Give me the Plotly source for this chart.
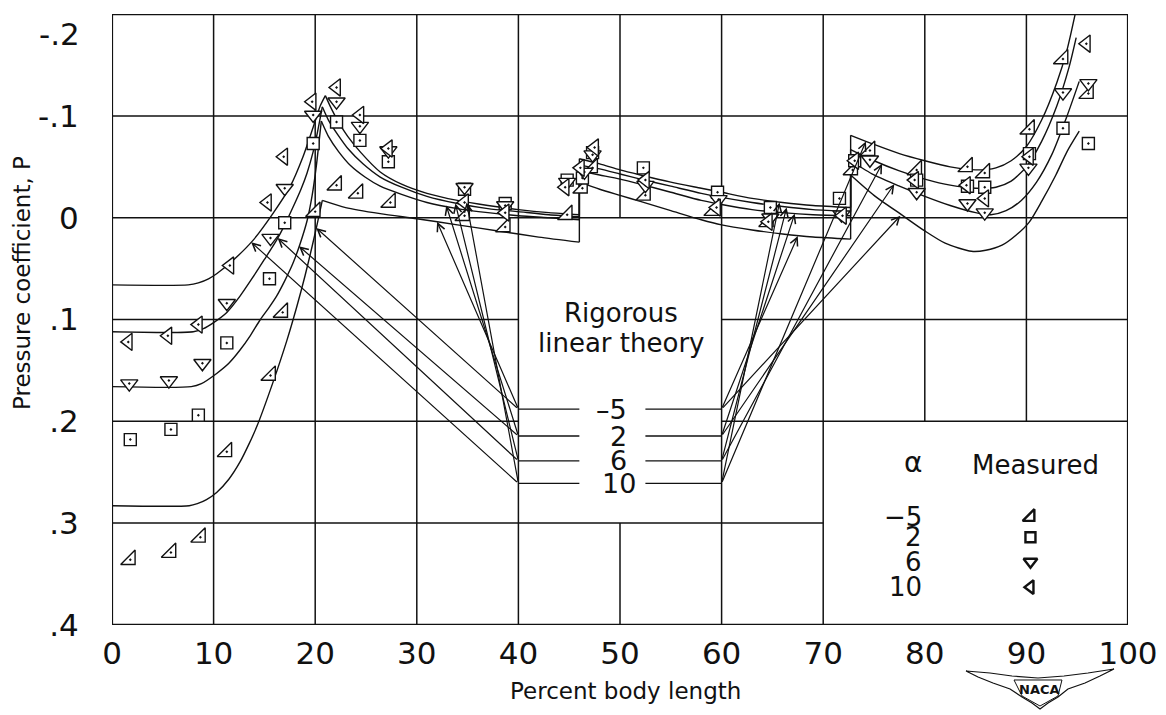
import plotly.graph_objects as go

# ---------------- axis ticks ----------------
X_TICKS = [0, 10, 20, 30, 40, 50, 60, 70, 80, 90, 100]
X_TICK_TEXT = ["0", "10", "20", "30", "40", "50", "60", "70", "80", "90", "100"]
Y_TICKS = [-0.2, -0.1, 0.0, 0.1, 0.2, 0.3, 0.4]
Y_TICK_TEXT = ["-.2", "-.1", "0", ".1", ".2", ".3", ".4"]

ALPHA_LABELS = ["–5", "2", "6", "10"]
LEGEND_LABELS = ["−5", "2", "6", "10"]

# ---------------- rigorous linear theory ----------------
# alpha = -5
TH_M5_NOSE_X = [0, 7.6, 8.4, 9.3, 10.3, 11.5, 12.6, 13.5, 14.3, 15.8, 17.2, 18.2, 19.0, 19.7, 20.2, 20.7]
TH_M5_NOSE_Y = [0.283, 0.283, 0.281, 0.277, 0.270, 0.257, 0.240, 0.222, 0.204, 0.163, 0.121, 0.087, 0.057, 0.028, 0.006, -0.017]
TH_M5_FORE_X = [20.7, 23.0, 26.4, 30.0, 34.0, 38.0, 42.0, 46.0]
TH_M5_FORE_Y = [-0.017, -0.010, -0.004, 0.001, 0.007, 0.013, 0.019, 0.024]
TH_M5_MID_X = [46.0, 48.0, 50.0, 52.0, 55.0, 58.0, 60.0, 63.0, 66.0, 69.0, 72.7]
TH_M5_MID_Y = [-0.035, -0.028, -0.022, -0.016, -0.007, 0.002, 0.007, 0.012, 0.016, 0.019, 0.021]
TH_M5_AFT_X = [72.7, 75.0, 77.7, 80.0, 82.0, 84.6, 86.0, 87.6, 89.0, 90.3, 91.5, 92.9, 94.0, 95.2]
TH_M5_AFT_Y = [-0.042, -0.022, -0.003, 0.013, 0.025, 0.033, 0.032, 0.027, 0.017, 0.004, -0.016, -0.042, -0.065, -0.085]

# alpha = 2
TH_2_NOSE_X = [0, 7.8, 8.8, 10.3, 11.5, 12.6, 13.6, 14.6, 15.4, 16.2, 17.0, 17.8, 18.5, 19.2, 19.7, 20.1, 20.6]
TH_2_NOSE_Y = [0.166, 0.166, 0.163, 0.153, 0.143, 0.130, 0.116, 0.100, 0.089, 0.077, 0.062, 0.045, 0.026, 0.003, -0.022, -0.050, -0.095]
TH_2_FORE_X = [20.6, 21.3, 22.3, 23.5, 24.9, 26.4, 28.5, 31.0, 34.0, 37.0, 40.0, 43.0, 46.0]
TH_2_FORE_Y = [-0.095, -0.080, -0.065, -0.051, -0.040, -0.031, -0.023, -0.015, -0.009, -0.005, -0.002, 0.000, 0.002]
TH_2_MID_X = [46.0, 48.0, 50.0, 52.0, 55.0, 58.0, 60.0, 63.0, 66.0, 69.0, 72.7]
TH_2_MID_Y = [-0.046, -0.042, -0.038, -0.033, -0.025, -0.017, -0.013, -0.008, -0.005, -0.003, -0.002]
TH_2_AFT_X = [72.7, 75.0, 77.5, 80.0, 82.5, 85.0, 86.5, 88.0, 89.5, 91.0, 92.5, 94.0, 95.2]
TH_2_AFT_Y = [-0.056, -0.042, -0.031, -0.021, -0.012, -0.005, -0.003, -0.007, -0.017, -0.035, -0.062, -0.100, -0.134]

# alpha = 6
TH_6_NOSE_X = [0, 8.0, 9.0, 10.0, 11.3, 12.6, 13.9, 15.0, 16.2, 17.0, 17.8, 18.6, 19.2, 19.8, 20.2, 20.7]
TH_6_NOSE_Y = [0.112, 0.112, 0.109, 0.103, 0.093, 0.077, 0.058, 0.041, 0.022, 0.007, -0.010, -0.028, -0.044, -0.065, -0.083, -0.109]
TH_6_FORE_X = [20.7, 21.3, 22.2, 23.3, 24.7, 26.4, 28.5, 31.0, 34.0, 37.0, 40.0, 43.0, 46.0]
TH_6_FORE_Y = [-0.109, -0.096, -0.082, -0.067, -0.053, -0.040, -0.030, -0.021, -0.014, -0.009, -0.006, -0.003, -0.001]
TH_6_MID_X = [46.0, 48.0, 50.0, 52.0, 55.0, 58.0, 60.0, 63.0, 66.0, 69.0, 72.7]
TH_6_MID_Y = [-0.052, -0.048, -0.043, -0.038, -0.031, -0.024, -0.020, -0.015, -0.011, -0.008, -0.006]
TH_6_AFT_X = [72.7, 75.0, 77.5, 80.0, 82.5, 85.0, 87.0, 88.5, 90.0, 91.5, 93.0, 94.2, 94.9]
TH_6_AFT_Y = [-0.067, -0.056, -0.046, -0.038, -0.032, -0.029, -0.030, -0.036, -0.050, -0.075, -0.110, -0.148, -0.177]

# alpha = 10
TH_10_NOSE_X = [0, 7.5, 8.5, 9.5, 10.3, 11.9, 13.9, 15.9, 17.5, 18.8, 19.8, 20.5, 21.0]
TH_10_NOSE_Y = [0.066, 0.066, 0.064, 0.060, 0.055, 0.042, 0.022, -0.005, -0.030, -0.060, -0.089, -0.110, -0.120]
TH_10_FORE_X = [21.0, 21.6, 22.3, 23.2, 24.5, 26.4, 28.5, 31.0, 34.0, 37.0, 40.0, 43.0, 46.0]
TH_10_FORE_Y = [-0.120, -0.107, -0.094, -0.080, -0.064, -0.045, -0.033, -0.024, -0.017, -0.012, -0.008, -0.005, -0.003]
TH_10_MID_X = [46.0, 48.0, 50.0, 52.0, 55.0, 58.0, 60.0, 63.0, 66.0, 69.0, 72.7]
TH_10_MID_Y = [-0.058, -0.053, -0.047, -0.042, -0.035, -0.029, -0.025, -0.019, -0.015, -0.012, -0.010]
TH_10_AFT_X = [72.7, 75.0, 77.5, 80.0, 82.5, 85.0, 87.0, 88.5, 90.0, 91.5, 93.0, 94.0, 94.8]
TH_10_AFT_Y = [-0.081, -0.072, -0.063, -0.056, -0.050, -0.047, -0.049, -0.056, -0.070, -0.096, -0.133, -0.165, -0.200]

# ---------------- label leaders (order: -5, 2, 6, 10) ----------------
LABEL_Y = [0.188, 0.2145, 0.239, 0.261]
LEFT_SHALLOW_X = [20.1, 18.4, 16.3, 13.7]
LEFT_SHALLOW_Y = [0.010, 0.028, 0.020, 0.024]
LEFT_STEEP_X = [32.0, 32.9, 33.8, 34.9]
LEFT_STEEP_Y = [0.004, -0.012, -0.014, -0.015]
RIGHT_STEEP_X = [67.5, 67.2, 66.4, 65.7]
RIGHT_STEEP_Y = [0.018, -0.004, -0.010, -0.015]
RIGHT_SHALLOW_X = [77.6, 77.0, 75.8, 74.2]
RIGHT_SHALLOW_Y = [-0.002, -0.033, -0.053, -0.075]

# ---------------- measured ----------------
MEAS_M5_X = [1.8, 5.8, 8.7, 11.3, 15.6, 16.8, 20.0, 22.1, 24.2, 27.4, 34.7, 38.7, 44.8, 46.3, 47.3,
             52.5, 59.2, 64.6, 72.9, 74.6, 79.2, 84.2, 85.9, 90.3, 93.6, 96.1]
MEAS_M5_Y = [0.336, 0.329, 0.314, 0.230, 0.155, 0.093, -0.006, -0.032, -0.024, -0.015, -0.002, 0.009, -0.003, -0.029, -0.049,
             -0.022, -0.007, 0.004, -0.047, -0.066, -0.047, -0.050, -0.044, -0.087, -0.156, -0.122]
MEAS_2_X = [1.8, 5.8, 8.5, 11.3, 15.5, 17.0, 19.8, 22.1, 24.4, 27.2, 34.7, 38.7, 44.8, 46.3, 47.3,
            52.3, 59.6, 64.8, 71.6, 73.1, 79.2, 84.2, 85.9, 90.3, 93.6, 96.1]
MEAS_2_Y = [0.218, 0.208, 0.194, 0.123, 0.060, 0.005, -0.073, -0.094, -0.076, -0.055, -0.028, -0.014, -0.037, -0.039, -0.064,
            -0.049, -0.025, -0.010, -0.019, -0.056, -0.037, -0.031, -0.030, -0.063, -0.088, -0.073]
MEAS_6_X = [1.7, 5.6, 8.9, 11.3, 15.6, 17.0, 19.8, 22.1, 24.4, 27.2, 34.7, 38.7, 44.8, 46.5, 47.3,
            52.5, 59.7, 64.8, 71.8, 74.6, 79.2, 84.2, 85.9, 90.2, 93.6, 96.1]
MEAS_6_Y = [0.163, 0.160, 0.143, 0.084, 0.020, -0.029, -0.101, -0.114, -0.090, -0.066, -0.030, -0.012, -0.035, -0.045, -0.062,
            -0.032, -0.018, 0.000, -0.003, -0.057, -0.025, -0.014, -0.005, -0.049, -0.123, -0.132]
MEAS_10_X = [1.6, 5.5, 8.5, 11.6, 15.3, 16.9, 19.7, 22.1, 24.4, 27.2, 34.7, 38.7, 44.6, 46.1, 47.5,
             52.5, 59.5, 64.6, 71.9, 73.1, 79.0, 84.1, 85.9, 90.3, 95.9]
MEAS_10_Y = [0.122, 0.116, 0.105, 0.047, -0.015, -0.060, -0.114, -0.128, -0.101, -0.068, -0.015, -0.005, -0.030, -0.049, -0.069,
             -0.037, -0.010, 0.004, -0.002, -0.056, -0.037, -0.032, -0.019, -0.060, -0.171]

LEGEND_MARK_Y = [0.294, 0.314, 0.338, 0.363]

BLACK = "#111111"
FONT = "DejaVu Sans"
fig = go.Figure()


def add_line(x, y, width=1.4, shape="spline"):
    fig.add_trace(go.Scatter(x=x, y=y, mode="lines", hoverinfo="skip", showlegend=False,
                             line=dict(color=BLACK, width=width, shape=shape, smoothing=0.7)))


theory = [
    (TH_M5_NOSE_X, TH_M5_NOSE_Y, TH_M5_FORE_X, TH_M5_FORE_Y, TH_M5_MID_X, TH_M5_MID_Y, TH_M5_AFT_X, TH_M5_AFT_Y),
    (TH_2_NOSE_X, TH_2_NOSE_Y, TH_2_FORE_X, TH_2_FORE_Y, TH_2_MID_X, TH_2_MID_Y, TH_2_AFT_X, TH_2_AFT_Y),
    (TH_6_NOSE_X, TH_6_NOSE_Y, TH_6_FORE_X, TH_6_FORE_Y, TH_6_MID_X, TH_6_MID_Y, TH_6_AFT_X, TH_6_AFT_Y),
    (TH_10_NOSE_X, TH_10_NOSE_Y, TH_10_FORE_X, TH_10_FORE_Y, TH_10_MID_X, TH_10_MID_Y, TH_10_AFT_X, TH_10_AFT_Y),
]

# grid and frame (shapes)
shapes = []
def seg(x0, y0, x1, y1, w=1.5):
    shapes.append(dict(type="line", xref="x", yref="y", x0=x0, y0=y0, x1=x1, y1=y1,
                       line=dict(color=BLACK, width=w), layer="below"))

for xv in (10, 20, 30, 40, 60, 70):
    seg(xv, -0.2, xv, 0.4)
seg(50, -0.2, 50, 0.0)
seg(50, 0.3, 50, 0.4)
for xv in (80, 90):
    seg(xv, -0.2, xv, 0.2)
for yv in (-0.1, 0.0):
    seg(0, yv, 100, yv)
for yv in (0.1, 0.2):
    seg(0, yv, 40, yv)
    seg(60, yv, 100, yv)
seg(0, 0.3, 70, 0.3)
shapes.append(dict(type="rect", xref="x", yref="y", x0=0, y0=-0.2, x1=100, y1=0.4,
                   line=dict(color=BLACK, width=2.2), layer="below"))

# theory curves
for nx, ny, fx, fy, mx, my, ax_, ay_ in theory:
    add_line(nx, ny)
    add_line(fx, fy)
    add_line([fx[-1], mx[0]], [fy[-1], my[0]], shape="linear")
    add_line(mx, my)
    add_line([mx[-1], ax_[0]], [my[-1], ay_[0]], shape="linear")
    add_line(ax_, ay_)

# label stubs
for ly in LABEL_Y:
    add_line([40, 46], [ly, ly], width=1.3, shape="linear")
    add_line([52.5, 60], [ly, ly], width=1.3, shape="linear")

annotations = []
def leader(x0, y0, x1, y1):
    annotations.append(dict(x=x1, y=y1, ax=x0, ay=y0, xref="x", yref="y", axref="x", ayref="y",
                            text="", showarrow=True, arrowhead=5, arrowsize=1.3, arrowwidth=1.2,
                            arrowcolor=BLACK, standoff=0, startstandoff=0))

for i, ly in enumerate(LABEL_Y):
    leader(40, ly, LEFT_SHALLOW_X[i], LEFT_SHALLOW_Y[i])
    leader(40, ly, LEFT_STEEP_X[i], LEFT_STEEP_Y[i])
    leader(60, ly, RIGHT_STEEP_X[i], RIGHT_STEEP_Y[i])
    leader(60, ly, RIGHT_SHALLOW_X[i], RIGHT_SHALLOW_Y[i])

# measured data
meas = [
    (MEAS_M5_X, MEAS_M5_Y, "triangle-se-dot", 16),
    (MEAS_2_X, MEAS_2_Y, "square-dot", 12),
    (MEAS_6_X, MEAS_6_Y, "triangle-down-dot", 15),
    (MEAS_10_X, MEAS_10_Y, "triangle-left-dot", 15),
]
for mx, my, sym, sz in meas:
    fig.add_trace(go.Scatter(x=mx, y=my, mode="markers", hoverinfo="skip", showlegend=False, cliponaxis=False,
                             marker=dict(symbol=sym, size=sz, color="white",
                                         line=dict(color=BLACK, width=1.4))))

# legend symbols
LEG_SYMS = ["triangle-se-open", "square-open", "triangle-down-open", "triangle-left-open"]
LEG_SIZES = [13, 10, 12, 12]
for i in range(4):
    fig.add_trace(go.Scatter(x=[90.4], y=[LEGEND_MARK_Y[i]], mode="markers", hoverinfo="skip", showlegend=False,
                             marker=dict(symbol=LEG_SYMS[i], size=LEG_SIZES[i], color=BLACK,
                                         line=dict(color=BLACK, width=2.4))))

def text(x, y, s, size, xanchor="center", xref="x", yref="y", angle=0, yanchor="middle"):
    annotations.append(dict(x=x, y=y, xref=xref, yref=yref, text=s, showarrow=False,
                            xanchor=xanchor, yanchor=yanchor, textangle=angle,
                            font=dict(family=FONT, size=size, color=BLACK)))

text(50.1, 0.094, "Rigorous", 26)
text(50.1, 0.123, "linear theory", 26)
for i, lab in enumerate(ALPHA_LABELS):
    text(49.9 if i else 49.2, LABEL_Y[i], lab, 27)

text(78.8, 0.241, "α", 28)
text(84.4, 0.243, "Measured", 26, xanchor="left")
for i, lab in enumerate(LEGEND_LABELS):
    text(79.9, LEGEND_MARK_Y[i], lab, 26, xanchor="right")

# the top y tick label sits just below its grid line in the original (no room above)
text((82 - 112) / 1016, 1.0, Y_TICK_TEXT[0], 31, xanchor="right", xref="paper", yref="paper", yanchor="top")
Y_TICK_SHOWN = [""] + Y_TICK_TEXT[1:]

# axis titles
text((625 - 112) / 1016, (625 - 691) / 611, "Percent body length", 23, xref="paper", yref="paper")
text((22 - 112) / 1016, (625 - 283) / 611, "Pressure coefficient, P", 23, xref="paper", yref="paper", angle=-90)

# NACA emblem (decoration)
def px(xp, yp):
    return f"{(xp - 112) / 1016:.4f},{(625 - yp) / 611:.4f}"

wing = [(966, 671), (990, 673), (1012, 676), (1038, 678), (1064, 676), (1088, 673), (1114, 669),
        (1100, 676), (1085, 683), (1068, 689), (1058, 697), (1048, 703), (1040, 709), (1032, 703),
        (1022, 697), (1010, 689), (993, 683), (978, 677)]
path = "M" + " L".join(px(a, b) for a, b in wing) + " Z"
shapes.append(dict(type="path", xref="paper", yref="paper", path=path,
                   line=dict(color=BLACK, width=1.2), fillcolor="white", layer="above"))
inner = [(1014, 680), (1062, 680), (1058, 696), (1040, 706), (1022, 696)]
shapes.append(dict(type="path", xref="paper", yref="paper",
                   path="M" + " L".join(px(a, b) for a, b in inner) + " Z",
                   line=dict(color=BLACK, width=1.0), layer="above"))
text((1039 - 112) / 1016, (625 - 689) / 611, "<b>NACA</b>", 13, xref="paper", yref="paper")

# page body adds an 8 px margin; plot area should sit at x 112..1128, y 14..625 on screen
fig.update_layout(
    width=1166, height=715,
    margin=dict(l=104, r=46, t=6, b=98, autoexpand=False),
    paper_bgcolor="white", plot_bgcolor="white",
    showlegend=False, shapes=shapes, annotations=annotations,
    font=dict(family=FONT, color=BLACK),
)
fig.update_xaxes(range=[0, 100], tickvals=X_TICKS, ticktext=X_TICK_TEXT, showgrid=False, zeroline=False,
                 showline=False, ticks="outside", ticklen=1, tickcolor="rgba(0,0,0,0)", automargin=False,
                 ticklabeloverflow="allow", tickfont=dict(family=FONT, size=31, color=BLACK))
fig.update_yaxes(range=[0.4002, -0.2002], tickvals=Y_TICKS, ticktext=Y_TICK_SHOWN, showgrid=False, zeroline=False,
                 showline=False, ticks="outside", ticklen=26, tickcolor="rgba(0,0,0,0)", automargin=False,
                 ticklabeloverflow="allow", tickfont=dict(family=FONT, size=31, color=BLACK))

fig.write_html("out.html")
